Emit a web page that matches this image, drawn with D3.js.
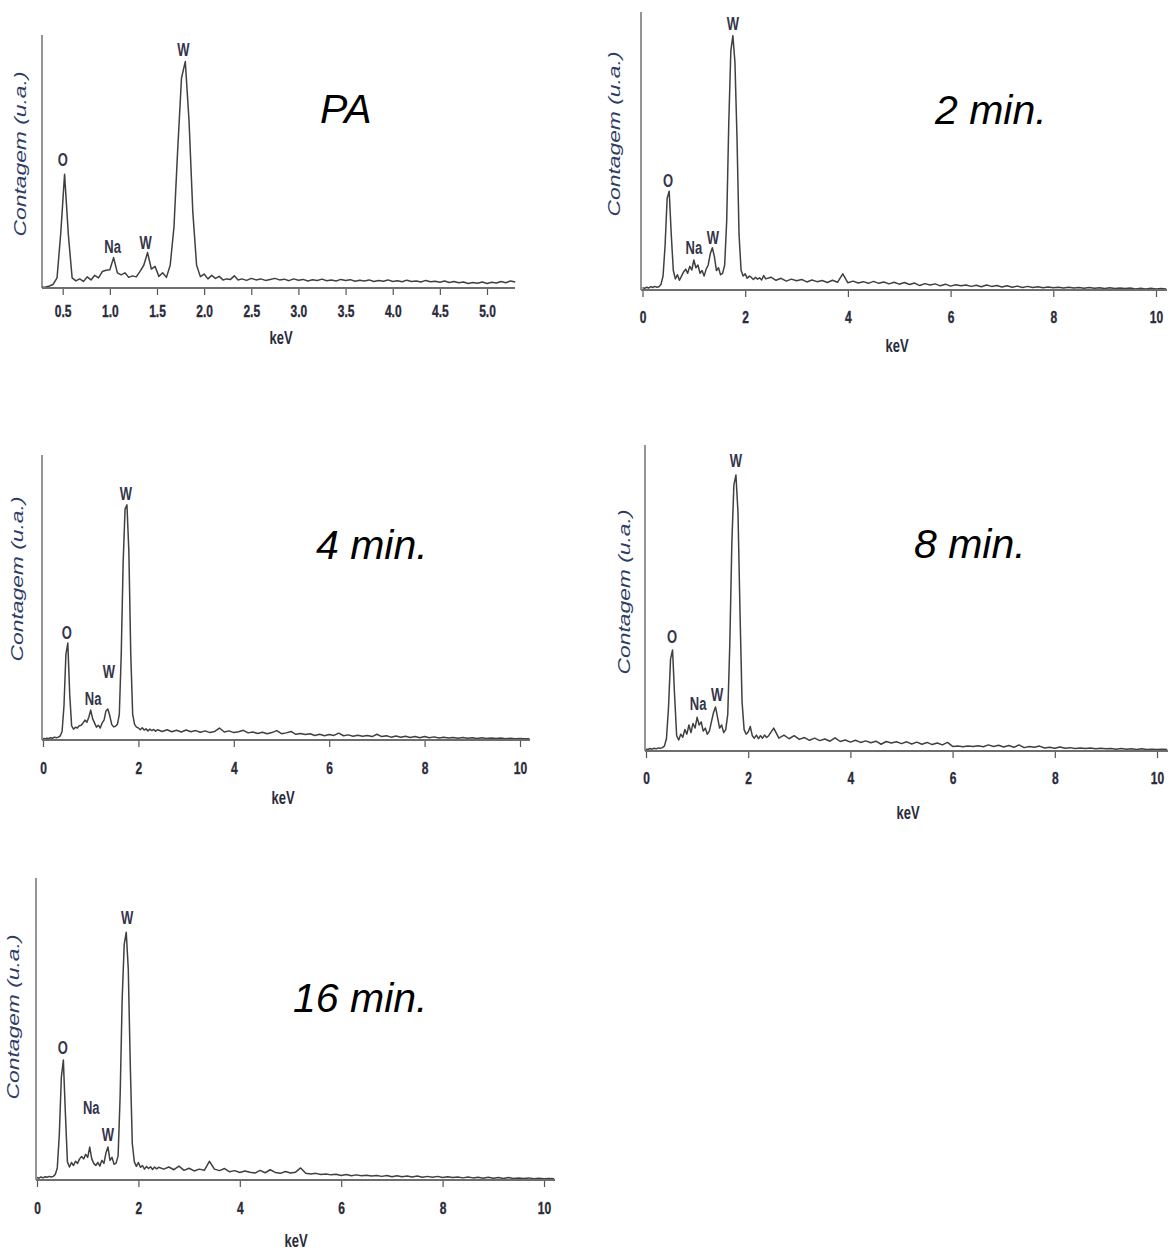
<!DOCTYPE html>
<html><head><meta charset="utf-8">
<script src="https://cdn.jsdelivr.net/npm/d3@7"></script>
<style>body{margin:0;background:#fff} svg{display:block;background:#fff}</style>
</head><body>
<svg id="c" width="1171" height="1251"></svg>
<script>
// ---------------- DATA (counts in % of the y-axis height) ----------------
const panelTitles = ["PA", "2 min.", "4 min.", "8 min.", "16 min."];
const yAxisTitle = "Contagem (u.a.)";
const xAxisTitle = "keV";
const peakNames = ["O", "Na", "W", "W"];

// fine part: step 0.04 keV ; coarse part: step 0.05 (PA) or 0.1 keV
const paFineStart = 0.28, paCoarseStart = 2.45, paCoarseStep = 0.05;
const paFine = [0.3,0.4,0.8,1.5,4,22,45,21,4,
  2.8,3.6,2.6,4.4,3.2,5,4,6.5,7,7.2,
  12,6,5.2,6,4.2,4.8,4.4,6.6,9,14,
  7.5,8.5,4.6,6,4.2,9,24,55,83,89.5,
  66,30,9,4.5,5.5,3.6,5,3.8,4.6,3.2,
  3.6,3.4,4.8,3.2,3.6];
const paCoarse = [3.0,3.8,3.2,3.6,3.0,3.4,3.8,3.2,3.5,2.9,
  3.6,3.1,3.4,2.8,3.3,3.0,3.5,2.9,3.2,2.8,
  3.4,3.0,3.3,2.7,3.1,2.8,3.2,2.6,3.0,2.7,
  3.2,2.6,2.9,2.5,3.1,2.6,2.8,2.4,3.0,2.5,
  2.7,2.3,2.8,2.2,2.6,2.1,2.4,1.8,2.2,1.9,
  2.4,1.8,2.3,2.0,2.6,2.1,2.8,2.4];

const fineStart = 0.0, fineStep = 0.04, coarseStart = 2.5, coarseStep = 0.1;

const m2Fine = [0.8,0.6,1.0,0.7,1.2,0.9,1.3,1.0,1.2,2.0,
  5,16,33,35.5,20,7,4,5.5,3.5,5,
  6.5,7.5,6,8.5,7.2,10.8,8,9,6,7,
  5,7.5,9,13,15.2,12,7,8,5.5,6,
  9,25,60,86,91.5,82,55,20,7,5,
  5.8,4.2,5,4.5,3.8,4.6,3.9,4.4,3.6,5.2,4];
const m2Coarse = [4.6,3.5,4.2,3.2,3.9,3.3,3.8,2.9,3.6,3.0,
  3.4,2.7,3.5,2.8,5.8,2.6,3.2,2.5,3.0,2.4,
  3.1,2.4,2.9,2.2,2.8,2.1,2.7,2.0,2.5,1.6,
  2.3,1.8,2.2,1.5,2.1,1.4,1.9,1.5,1.8,1.3,
  1.7,1.2,1.8,1.3,1.6,1.1,1.5,1.0,1.4,0.9,
  1.3,0.9,1.2,0.8,1.1,0.8,1.0,0.7,1.0,0.7,
  0.9,0.6,0.9,0.6,0.8,0.5,0.8,0.5,0.7,0.5,
  0.7,0.4,0.6,0.4,0.6,0.4,0.5,0.4];

const m4Fine = [0.5,0.4,0.6,0.5,0.8,0.6,1.0,0.8,1.0,1.4,
  3,12,30,34,16,5,3.8,4.5,4.2,5,
  5.2,6,7,6.2,8,10.5,7.5,6,4.5,5.2,
  4.2,6,7,10.2,10.9,8.5,5.5,4.6,4.8,5.5,
  9,30,62,81,82.5,66,30,9,5.5,4.5,
  4.2,3.6,4.3,3.5,3.9,3.2,3.8,3.3,3.7,3.1,3.6];
const m4Coarse = [3.0,3.6,2.9,3.4,2.8,3.5,2.9,3.3,2.7,3.2,
  2.6,3.0,4.2,2.8,3.2,2.6,2.9,3.4,2.5,2.8,
  2.3,2.7,2.2,2.6,3.3,2.2,2.5,3.0,2.0,2.3,
  1.9,2.2,1.6,2.0,1.5,1.9,1.6,2.4,1.5,1.8,
  1.3,1.7,1.3,1.6,1.2,2.0,1.2,1.5,1.0,1.4,
  1.0,1.3,0.9,1.2,0.8,1.2,0.8,1.1,0.7,1.0,
  0.7,0.9,0.6,0.9,0.6,0.8,0.5,0.8,0.5,0.7,
  0.5,0.7,0.4,0.6,0.4,0.5,0.4,0.4];

const m8Fine = [0.6,0.5,0.8,0.6,0.9,0.7,1.0,0.9,1.1,1.6,
  4,14,30,33,18,5,3.6,5.5,4.5,7,
  5.5,8.5,6,9,7.5,11,8.5,9.5,6.5,7.5,
  5.5,6.5,9.5,12.5,14.4,11,7.5,8.5,6,7,
  12,35,68,87,90.2,78,45,16,7,5.5,
  6.2,8,5,4.2,5.2,4,5,4.2,5.2,4.4,5];
const m8Coarse = [7.5,4.2,5.2,4.0,5.0,3.8,4.4,3.5,4.2,3.4,
  3.9,3.2,4.3,3.1,3.6,2.9,3.5,2.8,3.3,2.7,
  3.2,2.2,3.1,2.6,3.0,2.4,3.0,2.3,2.9,2.2,
  2.8,2.1,2.6,2.0,2.8,1.5,1.6,1.4,1.6,1.5,
  1.7,1.4,2.0,1.5,1.9,1.3,1.8,1.2,2.0,1.1,
  1.5,1.2,1.6,1.0,1.2,0.9,1.3,0.9,1.1,0.8,
  1.0,0.8,1.0,0.7,0.9,0.7,0.8,0.6,0.8,0.6,
  0.7,0.5,0.7,0.5,0.6,0.5,0.6,0.5];

const m16Fine = [0.8,0.6,1.0,0.7,1.1,0.9,1.2,1.0,1.2,1.8,
  4,15,34,39.7,22,6,4.3,5.8,4.8,6.2,
  5.5,7,7.8,7,8.5,7.5,10.9,7,5.5,4.8,
  5.8,4.6,6.5,5.5,9,10.9,6.5,7.5,5.2,5.6,
  8,28,60,78,82,70,38,12,6,4.5,
  5.8,4.2,4.8,3.6,4.5,3.8,4.4,3.5,4.3,3.7,4.2];
const m16Coarse = [3.6,4.3,3.4,4.6,3.2,3.9,3.0,3.6,3.2,6.2,
  3.6,3.1,3.8,2.7,3.1,2.5,3.0,2.6,2.3,3.2,
  2.4,3.4,2.5,2.2,2.8,2.3,2.6,4.0,2.2,2.0,
  2.2,1.8,2.0,1.7,1.9,1.5,1.8,1.4,1.7,1.4,
  1.6,1.3,1.5,1.2,1.5,1.1,1.4,1.1,1.3,1.0,
  1.3,0.9,1.2,0.9,1.2,0.8,1.1,0.8,1.0,0.7,
  1.0,0.7,0.9,0.6,0.9,0.6,0.8,0.5,0.8,0.5,
  0.7,0.5,0.7,0.4,0.6,0.4,0.5,0.4];

// peak label positions (keV, height %) per panel, order = peakNames
const paLabelKeV = [0.50, 1.03, 1.38, 1.78];   const paLabelH = [51, 16.5, 18, 94.5];
const m2LabelKeV = [0.50, 1.00, 1.37, 1.76];   const m2LabelH = [39.5, 15.5, 19, 96];
const m4LabelKeV = [0.50, 1.05, 1.38, 1.74];   const m4LabelH = [37.9, 14.7, 23.9, 86.7];
const m8LabelKeV = [0.51, 1.02, 1.39, 1.76];   const m8LabelH = [37.3, 15.4, 18.6, 95.1];
const m16LabelKeV = [0.51, 1.07, 1.40, 1.78];  const m16LabelH = [44, 24.2, 15.2, 86.8];

const ticksPA = [0.5,1.0,1.5,2.0,2.5,3.0,3.5,4.0,4.5,5.0];
const ticks10 = [0,2,4,6,8,10];

// ---------------- LAYOUT ----------------
const panels = [
  {title:panelTitles[0], fine:paFine, fs:paFineStart, fstep:fineStep, coarse:paCoarse, cs:paCoarseStart, cstep:paCoarseStep,
   lk:paLabelKeV, lh:paLabelH, ticks:ticksPA, fmt:d3.format(".1f"),
   dom:[0.5,5.0], rng:[62.7,487], axisX:42, right:515, top:35, base:288,
   titleX:320, titleY:123, tickY:311, kevX:281, kevY:337, ylabX:20, ylabY:154},
  {title:panelTitles[1], fine:m2Fine, fs:fineStart, fstep:fineStep, coarse:m2Coarse, cs:coarseStart, cstep:coarseStep,
   lk:m2LabelKeV, lh:m2LabelH, ticks:ticks10, fmt:d3.format("d"),
   dom:[0,10], rng:[642.5,1156], axisX:641, right:1167, top:12, base:290,
   titleX:935, titleY:124, tickY:317, kevX:897, kevY:345, ylabX:614, ylabY:134},
  {title:panelTitles[2], fine:m4Fine, fs:fineStart, fstep:fineStep, coarse:m4Coarse, cs:coarseStart, cstep:coarseStep,
   lk:m4LabelKeV, lh:m4LabelH, ticks:ticks10, fmt:d3.format("d"),
   dom:[0,10], rng:[43,520], axisX:42, right:530, top:455, base:740,
   titleX:316, titleY:559, tickY:768, kevX:283, kevY:797, ylabX:17, ylabY:579},
  {title:panelTitles[3], fine:m8Fine, fs:fineStart, fstep:fineStep, coarse:m8Coarse, cs:coarseStart, cstep:coarseStep,
   lk:m8LabelKeV, lh:m8LabelH, ticks:ticks10, fmt:d3.format("d"),
   dom:[0,10], rng:[646,1157], axisX:645, right:1168, top:445, base:751,
   titleX:914, titleY:558, tickY:778, kevX:908, kevY:812, ylabX:624, ylabY:592},
  {title:panelTitles[4], fine:m16Fine, fs:fineStart, fstep:fineStep, coarse:m16Coarse, cs:coarseStart, cstep:coarseStep,
   lk:m16LabelKeV, lh:m16LabelH, ticks:ticks10, fmt:d3.format("d"),
   dom:[0,10], rng:[37,544], axisX:36, right:555, top:878, base:1180,
   titleX:293, titleY:1012, tickY:1208, kevX:296, kevY:1240, ylabX:13, ylabY:1017}
];

const FONT = "'Liberation Sans', Arial, Helvetica, sans-serif";
const STRETCH = 1.45;
const svg = d3.select("#c");

panels.forEach(p => {
  const g = svg.append("g");
  const x = d3.scaleLinear().domain(p.dom).range(p.rng);
  const y = d3.scaleLinear().domain([0,100]).range([p.base, p.top]);

  const pts = p.fine.map((v,i) => [p.fs + i*p.fstep, v])
    .concat(p.coarse.map((v,i) => [p.cs + i*p.cstep, v]));

  // y axis line
  g.append("line").attr("x1",p.axisX).attr("x2",p.axisX).attr("y1",p.top).attr("y2",p.base)
    .attr("stroke","#7a7a7a").attr("stroke-width",1.6);

  // x axis (ticks via d3 axis)
  const ax = g.append("g").attr("transform",`translate(0,${p.base})`)
    .call(d3.axisBottom(x).tickValues(p.ticks).tickFormat(p.fmt).tickSize(7).tickSizeOuter(0));
  ax.select(".domain").remove();
  ax.selectAll(".tick line").attr("stroke","#555").attr("stroke-width",1.2);
  ax.selectAll(".tick text")
    .attr("y",null).attr("dy","0.35em")
    .attr("transform",`translate(0,${p.tickY - p.base}) scale(1,${STRETCH})`)
    .attr("font-family",FONT).attr("font-weight","bold").attr("font-size",12)
    .attr("fill","#2a2a3a").attr("stroke","#2a2a3a").attr("stroke-width",0.25);

  // spectrum
  g.append("path").datum(pts)
    .attr("d", d3.line().x(d=>x(d[0])).y(d=>y(d[1])))
    .attr("fill","none").attr("stroke","#404040").attr("stroke-width",1.5).attr("stroke-linejoin","round");

  // baseline (drawn over spectrum foot)
  g.append("line").attr("x1",p.axisX).attr("x2",p.right).attr("y1",p.base).attr("y2",p.base)
    .attr("stroke","#6e6e6e").attr("stroke-width",2.2);

  // peak labels
  peakNames.forEach((n,i) => {
    g.append("text")
      .attr("transform",`translate(${x(p.lk[i])},${y(p.lh[i])}) scale(1,${STRETCH})`)
      .attr("text-anchor","middle").attr("dy","0.35em")
      .attr("font-family",FONT).attr("font-weight","bold").attr("font-size",13)
      .attr("fill","#34344a").text(n);
  });

  // keV label
  g.append("text")
    .attr("transform",`translate(${p.kevX},${p.kevY}) scale(1,${STRETCH})`)
    .attr("text-anchor","middle").attr("dy","0.35em")
    .attr("font-family",FONT).attr("font-weight","bold").attr("font-size",13)
    .attr("fill","#2a2a3a").text(xAxisTitle);

  // y label
  g.append("text")
    .attr("transform",`translate(${p.ylabX},${p.ylabY}) rotate(-90)`)
    .attr("text-anchor","middle").attr("dy","0.35em")
    .attr("font-family",FONT).attr("font-style","italic").attr("font-size",16)
    .attr("textLength",165).attr("lengthAdjust","spacingAndGlyphs")
    .attr("fill","#2f3d66").text(yAxisTitle);

  // panel title
  g.append("text").attr("x",p.titleX).attr("y",p.titleY)
    .attr("font-family",FONT).attr("font-style","italic").attr("font-size",41)
    .attr("fill","#000").text(p.title);
});
</script>
</body></html>
